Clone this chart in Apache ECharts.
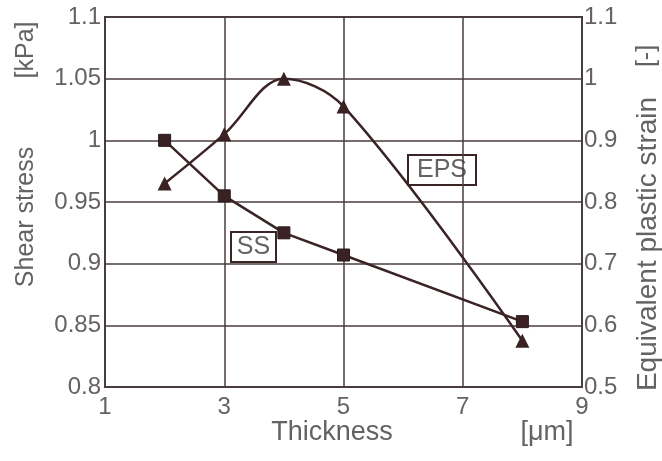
<!DOCTYPE html>
<html>
<head>
<meta charset="utf-8">
<script src="https://cdn.jsdelivr.net/npm/echarts@6/dist/echarts.min.js"></script>
<style>html,body{margin:0;padding:0;background:#fff;}#c{width:662px;height:461px;}</style>
</head>
<body>
<div id="c"></div>
<script>
var thickness = [2, 3, 4, 5, 8];
var shearStress = [1.0, 0.955, 0.925, 0.907, 0.853];
var plasticStrain = [0.83, 0.91, 1.0, 0.955, 0.575];
var xTicks = [1, 3, 5, 7, 9];
var leftTicks = [0.8, 0.85, 0.9, 0.95, 1, 1.05, 1.1];
var rightTicks = [0.5, 0.6, 0.7, 0.8, 0.9, 1, 1.1];

var lineColor = '#3b2426';
var gridColor = '#4a3d3f';
var textColor = '#636363';
var font = 'Liberation Sans, Arial, sans-serif';

function pairs(xs, ys) { return xs.map(function (x, i) { return [x, ys[i]]; }); }

var chart = echarts.init(document.getElementById('c'), null, {renderer: 'canvas'});
chart.setOption({
  backgroundColor: '#ffffff',
  animation: false,
  grid: {left: 105, right: 80, top: 17, bottom: 74, show: true, borderColor: gridColor, borderWidth: 2},
  xAxis: {
    type: 'value', min: 1, max: 9, interval: 2,
    axisLine: {show: false}, axisTick: {show: false},
    splitLine: {show: true, lineStyle: {color: gridColor, width: 1.5}},
    axisLabel: {color: textColor, fontSize: 24, fontFamily: font, margin: 8,
      formatter: function (v) { return xTicks.indexOf(v) >= 0 ? String(v) : ''; }}
  },
  yAxis: [{
    type: 'value', min: 0.8, max: 1.1, interval: 0.05, position: 'left',
    axisLine: {show: false}, axisTick: {show: false},
    splitLine: {show: true, lineStyle: {color: gridColor, width: 1.5}},
    axisLabel: {color: textColor, fontSize: 24, fontFamily: font, margin: 4,
      formatter: function (v) { var r = Math.round(v * 100) / 100; return leftTicks.indexOf(r) >= 0 ? String(r) : ''; }}
  }, {
    type: 'value', min: 0.5, max: 1.1, interval: 0.1, position: 'right',
    axisLine: {show: false}, axisTick: {show: false}, splitLine: {show: false},
    axisLabel: {color: textColor, fontSize: 24, fontFamily: font, margin: 2,
      formatter: function (v) { var r = Math.round(v * 10) / 10; return rightTicks.indexOf(r) >= 0 ? String(r) : ''; }}
  }],
  series: [{
    name: 'SS', type: 'line', yAxisIndex: 0,
    data: pairs(thickness, shearStress),
    symbol: 'rect', symbolSize: 12,
    lineStyle: {color: lineColor, width: 2.5},
    itemStyle: {color: '#3a2224', borderColor: '#2a1a1a', borderWidth: 1}
  }, {
    name: 'EPS', type: 'line', yAxisIndex: 1,
    data: pairs(thickness, plasticStrain),
    smooth: 0.35,
    symbol: 'triangle', symbolSize: 14,
    lineStyle: {color: lineColor, width: 2.5},
    itemStyle: {color: '#3a2224'}
  }],
  graphic: [
    {type: 'rect', shape: {x: 231, y: 232, width: 45, height: 30}, style: {fill: '#fff', stroke: '#3b2426', lineWidth: 2}},
    {type: 'text', x: 253.5, y: 247, style: {text: 'SS', fill: textColor, font: '25px ' + font, align: 'center', verticalAlign: 'middle'}},
    {type: 'rect', shape: {x: 408, y: 155, width: 68, height: 30}, style: {fill: '#fff', stroke: '#3b2426', lineWidth: 2}},
    {type: 'text', x: 442, y: 170, style: {text: 'EPS', fill: textColor, font: '25px ' + font, align: 'center', verticalAlign: 'middle'}},
    {type: 'text', x: 26, y: 217, rotation: Math.PI / 2, style: {text: 'Shear stress', fill: textColor, font: '25px ' + font, align: 'center', verticalAlign: 'middle'}},
    {type: 'text', x: 26, y: 50, rotation: Math.PI / 2, style: {text: '[kPa]', fill: textColor, font: '25px ' + font, align: 'center', verticalAlign: 'middle'}},
    {type: 'text', x: 648, y: 244, rotation: Math.PI / 2, style: {text: 'Equivalent plastic strain', fill: textColor, font: '28px ' + font, align: 'center', verticalAlign: 'middle'}},
    {type: 'text', x: 647, y: 56, rotation: Math.PI / 2, style: {text: '[-]', fill: textColor, font: '25px ' + font, align: 'center', verticalAlign: 'middle'}},
    {type: 'text', x: 332, y: 433, style: {text: 'Thickness', fill: textColor, font: '27px ' + font, align: 'center', verticalAlign: 'middle'}},
    {type: 'text', x: 547, y: 433, style: {text: '[\u03bcm]', fill: textColor, font: '27px ' + font, align: 'center', verticalAlign: 'middle'}}
  ]
});
</script>
</body>
</html>
